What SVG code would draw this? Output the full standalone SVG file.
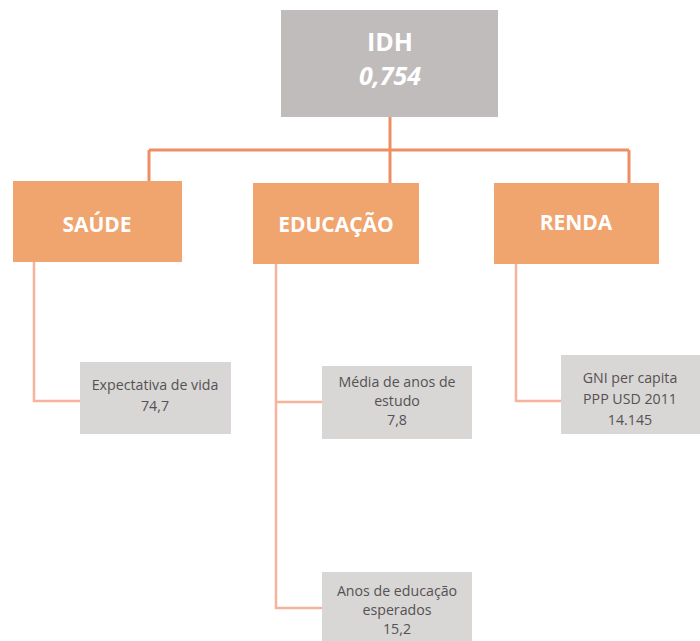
<svg xmlns="http://www.w3.org/2000/svg" width="700" height="641" viewBox="0 0 700 641">
<style>
.hdr{fill:#f0a46e}
.leaf{fill:#d9d6d6}
.ht{font-family:"Open Sans","Liberation Sans",sans-serif;font-weight:bold;fill:#ffffff;text-anchor:middle}
.lt{font-family:"Open Sans","Liberation Sans",sans-serif;font-size:14.2px;fill:#555252;text-anchor:middle}
.c1{fill:none;stroke:#ee8e62;stroke-width:3}
.c2{fill:none;stroke:#f5b49b;stroke-width:2.5}
</style>
<rect width="700" height="641" fill="#ffffff"/>
<g id="connectors">
<path class="c1" d="M390 117V183M149 150H629M149 150V181M629 150V183"/>
<path class="c2" d="M34 262V401H80"/>
<path class="c2" d="M276 264V608H322M276 402H322"/>
<path class="c2" d="M516 264V401H562"/>
</g>
<g id="idh">
<rect x="281" y="10" width="217" height="107" fill="#c0bcbb"/>
<text class="ht" x="390" y="51" font-size="25">IDH</text>
<text class="ht" x="390" y="85" font-size="25" font-style="italic">0,754</text>
</g>
<g id="saude">
<rect class="hdr" x="13" y="181" width="169" height="81"/>
<text class="ht" x="97" y="232" font-size="21">SAÚDE</text>
</g>
<g id="educacao">
<rect class="hdr" x="253" y="183" width="166" height="81"/>
<text class="ht" x="336" y="232" font-size="21">EDUCAÇÃO</text>
</g>
<g id="renda">
<rect class="hdr" x="494" y="183" width="165" height="81"/>
<text class="ht" x="576" y="230" font-size="21">RENDA</text>
</g>
<g id="expectativa">
<rect class="leaf" x="80" y="362" width="151" height="72"/>
<text class="lt" x="155" y="390">Expectativa de vida</text>
<text class="lt" x="155" y="411">74,7</text>
</g>
<g id="media">
<rect class="leaf" x="322" y="366" width="150" height="73"/>
<text class="lt" x="397" y="387">Média de anos de</text>
<text class="lt" x="397" y="406">estudo</text>
<text class="lt" x="397" y="425">7,8</text>
</g>
<g id="gni">
<rect class="leaf" x="561" y="355" width="139" height="79"/>
<text class="lt" x="630" y="383">GNI per capita</text>
<text class="lt" x="630" y="404">PPP USD 2011</text>
<text class="lt" x="630" y="425">14.145</text>
</g>
<g id="anos">
<rect class="leaf" x="322" y="572" width="150" height="69"/>
<text class="lt" x="397" y="596">Anos de educação</text>
<text class="lt" x="397" y="615">esperados</text>
<text class="lt" x="397" y="634">15,2</text>
</g>
</svg>
